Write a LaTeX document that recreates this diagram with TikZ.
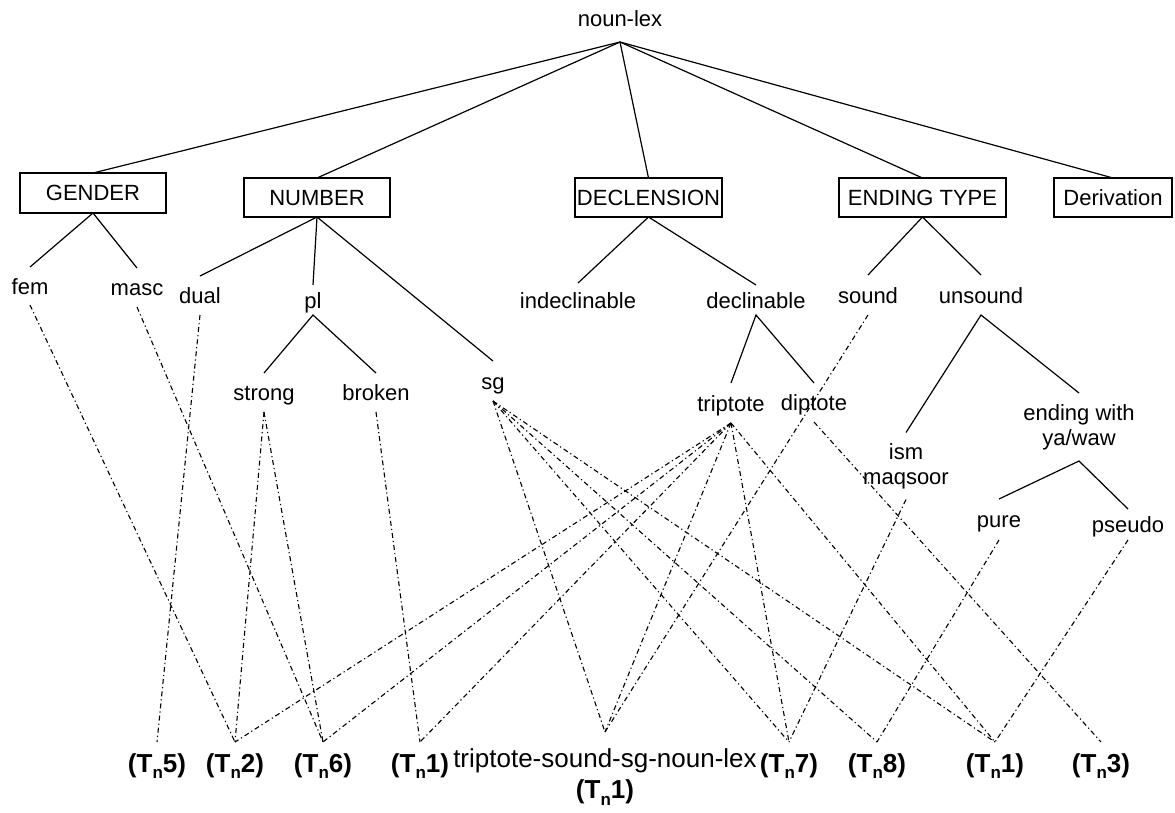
\documentclass[tikz,border=0pt]{standalone}
\usepackage{fontspec}
\setmainfont{Liberation Sans}
% bold type label with lowered sans subscript n
\newcommand{\tnlab}[1]{(T\raisebox{-6.5pt}{\fontsize{17}{17}\selectfont n}#1)}
\begin{document}
\begin{tikzpicture}[x=1pt,y=-1pt,
  every node/.style={inner sep=0pt,outer sep=0pt},
  tree/.style={line width=1.2pt},
  inh/.style={line width=1.1pt,dash pattern=on 5pt off 3pt on 1.2pt off 3pt},
  cat/.style={draw,line width=1.2pt,minimum height=39pt,
    font=\fontsize{22}{25}\selectfont,text height=15.75pt,text depth=0pt},
  feat/.style={font=\fontsize{22}{25}\selectfont,text height=20pt,text depth=4pt},
  multi/.style={font=\fontsize{22}{25}\selectfont,align=center},
  tlabel/.style={anchor=north,font=\fontsize{26}{30}\selectfont\bfseries,
    text height=19pt,text depth=7pt,inner ysep=11pt},
]
\useasboundingbox (0,0) rectangle (1175,812);

% root
\node[feat,minimum height=48pt] (nounlex) at (620,18) {noun-lex};

% dimensions
\node[cat,minimum width=146pt,minimum height=40pt] (gender) at (93,193) {GENDER};
\node[cat,minimum width=146pt] (number) at (317,197.5) {NUMBER};
\node[cat,minimum width=147pt] (decl) at (648.5,197.5) {DECLENSION};
\node[cat,minimum width=167pt] (ending) at (922.5,197.5) {ENDING TYPE};
\node[cat,minimum width=118pt] (deriv) at (1113,197.5) {Derivation};

% features
\node[feat,minimum height=38pt] (fem) at (30,286) {fem};
\node[feat,minimum height=39pt] (masc) at (137,287.5) {masc};
\node[feat,minimum height=39pt] (dual) at (200,295.5) {dual};
\node[feat,minimum height=30pt] (pl) at (313,300) {pl};
\node[feat,minimum height=40pt] (sg) at (493,381) {sg};
\node[feat,minimum height=39pt] (strong) at (264,392.5) {strong};
\node[feat,minimum height=39pt] (broken) at (376,392.5) {broken};
\node[feat,minimum height=34pt] (indecl) at (578,300) {indeclinable};
\node[feat,minimum height=30pt] (declin) at (756,300) {declinable};
\node[feat,minimum height=40pt] (tript) at (731,403) {triptote};
\node[feat,minimum height=39pt] (dipt) at (814,402.5) {diptote};
\node[feat,minimum height=40pt] (sound) at (868,295) {sound};
\node[feat,minimum height=40pt] (unsound) at (981,295) {unsound};
\node[multi,minimum height=67pt] (ism) at (906,466) {ism\\maqsoor};
\node[multi,minimum height=68pt] (yawaw) at (1079,427) {ending with\\ya/waw};
\node[feat,minimum height=41pt] (pure) at (999,519.5) {pure};
\node[feat,minimum height=31pt] (pseudo) at (1128,524.5) {pseudo};

% lexical types
\node[tlabel] (t5) at (157,742) {\tnlab{5}};
\node[tlabel] (t2) at (235,742) {\tnlab{2}};
\node[tlabel] (t6) at (323,742) {\tnlab{6}};
\node[tlabel] (t1a) at (420,742) {\tnlab{1}};
\node[anchor=north,font=\fontsize{26}{30}\selectfont,align=center,inner ysep=17pt]
  (tssg) at (605,732) {triptote-sound-sg-noun-lex\\[1pt]{\bfseries\tnlab{1}}};
\node[tlabel] (t7) at (789,742) {\tnlab{7}};
\node[tlabel] (t8) at (877,742) {\tnlab{8}};
\node[tlabel] (t1b) at (995,742) {\tnlab{1}};
\node[tlabel] (t3) at (1101,742) {\tnlab{3}};

% hierarchy
\foreach \d in {gender,number,decl,ending,deriv}
  \draw[tree] (nounlex.south) -- (\d.north);
\draw[tree] (fem.north) -- (gender.south) -- (masc.north);
\draw[tree] (dual.north) -- (number.south) -- (pl.north);
\draw[tree] (number.south) -- (sg.north);
\draw[tree] (strong.north) -- (pl.south) -- (broken.north);
\draw[tree] (indecl.north) -- (decl.south) -- (declin.north);
\draw[tree] (tript.north) -- (declin.south) -- (dipt.north);
\draw[tree] (sound.north) -- (ending.south) -- (unsound.north);
\draw[tree] (ism.north) -- (unsound.south) -- (yawaw.north);
\draw[tree] (pure.north) -- (yawaw.south) -- (pseudo.north);

% inheritance links
\draw[inh] (fem.south) -- (t2.north);
\draw[inh] (masc.south) -- (t6.north);
\draw[inh] (dual.south) -- (t5.north);
\draw[inh] (strong.south) -- (t2.north);
\draw[inh] (strong.south) -- (t6.north);
\draw[inh] (broken.south) -- (t1a.north);
\foreach \t in {tssg,t7,t8,t1b}
  \draw[inh] (sg.south) -- (\t.north);
\foreach \t in {t2,t6,t1a,tssg,t7,t1b}
  \draw[inh] (tript.south) -- (\t.north);
\draw[inh] (dipt.south) -- (t3.north);
\draw[inh] (sound.south) -- (tssg.north);
\draw[inh] (ism.south) -- (t7.north);
\draw[inh] (pure.south) -- (t8.north);
\draw[inh] (pseudo.south) -- (t1b.north);
\end{tikzpicture}
\end{document}
